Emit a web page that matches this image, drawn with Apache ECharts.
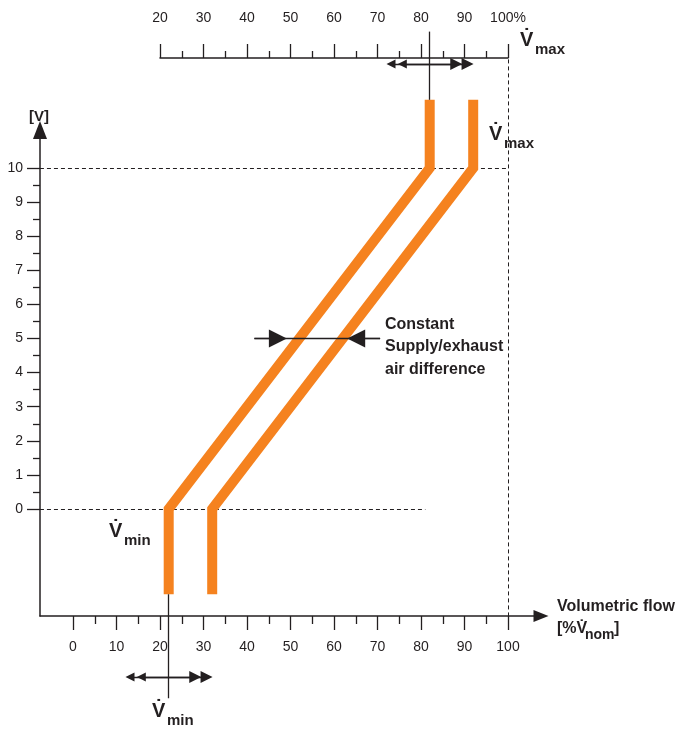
<!DOCTYPE html>
<html><head><meta charset="utf-8">
<script src="https://cdn.jsdelivr.net/npm/echarts@6/dist/echarts.min.js"></script>
<style>html,body{margin:0;padding:0;background:#fff}#c{width:681px;height:731px}</style>
</head><body><div id="c"></div>
<script>
// ---- data ----
const bottomTicks = [0, 10, 20, 30, 40, 50, 60, 70, 80, 90, 100];
const topTicks = [20, 30, 40, 50, 60, 70, 80, 90, 100];
const voltTicks = [0, 1, 2, 3, 4, 5, 6, 7, 8, 9, 10];
const supplyX = [22, 22, 82, 82];
const supplyY = [-2.5, 0, 10, 12];
const exhaustX = [32, 32, 92, 92];
const exhaustY = [-2.5, 0, 10, 12];
const vmaxSetting = 82;
const vminSetting = 22;
const diffLevel = 5;

const INK = '#231F20';
const ORANGE = '#F5821F';
const FONT = '"Liberation Sans", Arial, sans-serif';

const supplyData = supplyX.map((x, i) => [x, supplyY[i]]);
const exhaustData = exhaustX.map((x, i) => [x, exhaustY[i]]);

const chart = echarts.init(document.getElementById('c'), null, {renderer: 'canvas'});

function plainLines(data, opt) {
  return Object.assign({
    type: 'lines', coordinateSystem: 'cartesian2d', xAxisIndex: 0, yAxisIndex: 0,
    polyline: false, silent: true, symbol: ['none', 'none'], z: 5, clip: false,
    lineStyle: {color: INK, width: 1.3, opacity: 1},
    data: data.map(c => ({coords: c}))
  }, opt || {});
}

const hiddenAxis = (g) => ({gridIndex: g, type: 'value', show: false, min: 0, max: 1});

const option = {
  animation: false,
  backgroundColor: '#fff',
  textStyle: {fontFamily: FONT, color: INK},
  grid: [
    {left: 73, top: 168, width: 435, height: 341},   // 0 data
    {left: 160, top: 48, width: 348, height: 10},    // 1 top scale
    {left: 40, top: 130, width: 501, height: 486},   // 2 axis lines with arrows
    {left: 73, top: 606, width: 435, height: 10},    // 3 bottom scale
    {left: 40, top: 168, width: 10, height: 341}     // 4 voltage scale
  ],
  xAxis: [
    {gridIndex: 0, type: 'value', min: 0, max: 100, show: false},
    {
      gridIndex: 1, type: 'value', min: topTicks[0], max: topTicks[topTicks.length - 1], interval: 10, position: 'top',
      axisLine: {show: true, lineStyle: {color: INK, width: 1.5}},
      axisTick: {show: true, length: 14, lineStyle: {color: INK, width: 1.3}},
      minorTick: {show: true, splitNumber: 2, length: 7, lineStyle: {color: INK, width: 1.3}},
      axisLabel: {margin: 23, fontSize: 14, color: INK, fontFamily: FONT,
        formatter: v => topTicks.indexOf(v) < 0 ? '' : (v === 100 ? '100%' : String(v))},
      splitLine: {show: false}
    },
    {
      gridIndex: 2, type: 'value', min: 0, max: 1, position: 'bottom',
      axisLine: {show: true, symbol: ['none', 'triangle'], symbolSize: [12, 15], lineStyle: {color: INK, width: 1.5}},
      axisTick: {show: false}, axisLabel: {show: false}, splitLine: {show: false}
    },
    {
      gridIndex: 3, type: 'value', min: bottomTicks[0], max: bottomTicks[bottomTicks.length - 1], interval: 10, position: 'bottom',
      axisLine: {show: false},
      axisTick: {show: true, length: 14, lineStyle: {color: INK, width: 1.3}},
      minorTick: {show: true, splitNumber: 2, length: 8, lineStyle: {color: INK, width: 1.3}},
      axisLabel: {margin: 24, fontSize: 14, color: INK, fontFamily: FONT},
      splitLine: {show: false}, minorSplitLine: {show: false}
    },
    hiddenAxis(4)
  ],
  yAxis: [
    {gridIndex: 0, type: 'value', min: 0, max: 10, show: false},
    hiddenAxis(1),
    {
      gridIndex: 2, type: 'value', min: 0, max: 1, position: 'left',
      axisLine: {show: true, symbol: ['none', 'triangle'], symbolSize: [14, 18], lineStyle: {color: INK, width: 1.5}},
      axisTick: {show: false}, axisLabel: {show: false}, splitLine: {show: false}
    },
    hiddenAxis(3),
    {
      gridIndex: 4, type: 'value', min: voltTicks[0], max: voltTicks[voltTicks.length - 1], interval: 1, position: 'left',
      axisLine: {show: false},
      axisTick: {show: true, length: 13, lineStyle: {color: INK, width: 1.3}},
      minorTick: {show: true, splitNumber: 2, length: 7, lineStyle: {color: INK, width: 1.3}},
      axisLabel: {margin: 17, fontSize: 14, color: INK, fontFamily: FONT},
      splitLine: {show: false}, minorSplitLine: {show: false}
    }
  ],
  series: [
    // dashed guide lines
    plainLines([
      [[-7.6, 10], [100, 10]],
      [[-7.6, 0], [81, 0]],
      [[100, -3.15], [100, 13.5]]
    ], {lineStyle: {color: INK, width: 1, type: [4, 3], opacity: 1}, z: 2}),
    // characteristic lines
    {
      type: 'line', xAxisIndex: 0, yAxisIndex: 0, data: supplyData, showSymbol: false, symbol: 'none',
      clip: false, z: 4, silent: true,
      lineStyle: {color: ORANGE, width: 10, join: 'miter', cap: 'butt'}
    },
    {
      type: 'line', xAxisIndex: 0, yAxisIndex: 0, data: exhaustData, showSymbol: false, symbol: 'none',
      clip: false, z: 4, silent: true,
      lineStyle: {color: ORANGE, width: 10, join: 'miter', cap: 'butt'}
    },
    // crosshair verticals
    plainLines([
      [[vmaxSetting, 12], [vmaxSetting, 14.0]],
      [[vminSetting, -2.5], [vminSetting, -5.55]]
    ]),
    // double-arrow lines (outer heads)
    plainLines([
      [[vmaxSetting - 8.9, 13.05], [vmaxSetting + 8.7, 13.05]],
      [[vminSetting - 8.9, -4.93], [vminSetting + 8.7, -4.93]]
    ], {symbol: ['triangle', 'triangle'], symbolSize: [9, 12]}),
    // inner heads
    plainLines([
      [[vmaxSetting - 6.3, 13.05], [vmaxSetting + 6.1, 13.05]],
      [[vminSetting - 6.3, -4.93], [vminSetting + 6.1, -4.93]]
    ], {symbol: ['triangle', 'triangle'], symbolSize: [9, 12]}),
    // constant difference arrows
    plainLines([[[41.7, diffLevel], [70.6, diffLevel]]]),
    plainLines([[[41.7, diffLevel], [47.1, diffLevel]]], {symbol: ['none', 'triangle'], symbolSize: [11, 18]}),
    plainLines([[[70.6, diffLevel], [65.1, diffLevel]]], {symbol: ['none', 'triangle'], symbolSize: [11, 18]})
  ],
  graphic: [
    {type: 'text', left: 29, top: 109, style: {text: '[V]', font: 'bold 15px ' + FONT, fill: INK}},
    // top Vmax
    {type: 'text', left: 520, top: 30, style: {text: 'V\u0307', font: 'bold 20px ' + FONT, fill: INK}},
    {type: 'text', left: 535, top: 42, style: {text: 'max', font: 'bold 15px ' + FONT, fill: INK}},
    // right Vmax
    {type: 'text', left: 489, top: 124, style: {text: 'V\u0307', font: 'bold 20px ' + FONT, fill: INK}},
    {type: 'text', left: 504, top: 136, style: {text: 'max', font: 'bold 15px ' + FONT, fill: INK}},
    // left Vmin
    {type: 'text', left: 109, top: 521, style: {text: 'V\u0307', font: 'bold 20px ' + FONT, fill: INK}},
    {type: 'text', left: 124, top: 533, style: {text: 'min', font: 'bold 15px ' + FONT, fill: INK}},
    // bottom Vmin
    {type: 'text', left: 152, top: 701, style: {text: 'V\u0307', font: 'bold 20px ' + FONT, fill: INK}},
    {type: 'text', left: 167, top: 713, style: {text: 'min', font: 'bold 15px ' + FONT, fill: INK}},
    // axis title
    {type: 'text', left: 557, top: 599, style: {text: 'Volumetric flow', font: 'bold 16px ' + FONT, fill: INK}},
    {type: 'text', left: 557, top: 621, style: {text: '[%V\u0307', font: 'bold 16px ' + FONT, fill: INK}},
    {type: 'text', left: 585, top: 628, style: {text: 'nom', font: 'bold 14px ' + FONT, fill: INK}},
    {type: 'text', left: 614, top: 621, style: {text: ']', font: 'bold 16px ' + FONT, fill: INK}},
    // annotation
    {type: 'text', left: 385, top: 313, style: {text: 'Constant\nSupply/exhaust\nair difference', font: 'bold 16px ' + FONT, lineHeight: 22.5, fill: INK}}
  ]
};
chart.setOption(option);
</script>
</body></html>
